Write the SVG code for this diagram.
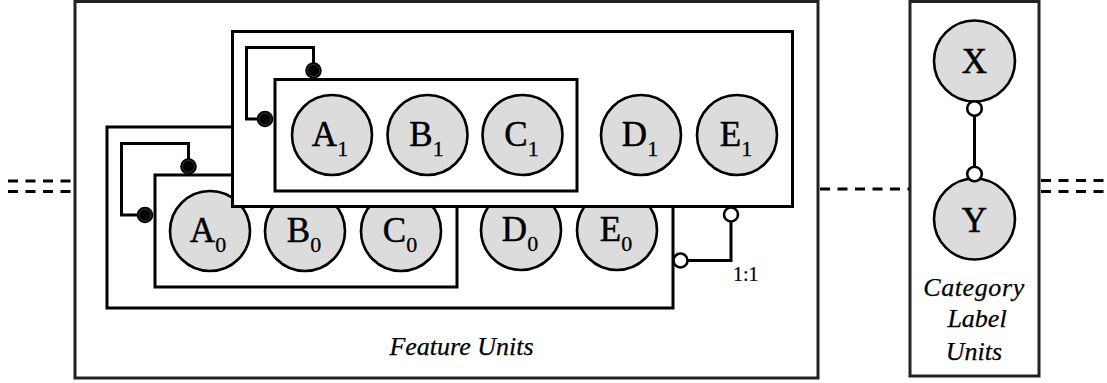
<svg xmlns="http://www.w3.org/2000/svg" width="1107" height="383" viewBox="0 0 1107 383">
  <style>
    .frame { fill: #fff; stroke: #222; stroke-width: 3; }
    .box { fill: #fff; stroke: #000; stroke-width: 3; }
    .unit { fill: #dcdcdc; stroke: #000; stroke-width: 2.6; }
    .lbl { font-family: "Liberation Serif", "Times New Roman", serif; font-size: 35px; fill: #000; stroke: #000; stroke-width: 0.5; text-anchor: middle; }
    .sub { font-size: 22px; stroke-width: 0.3; }
    .cap { font-family: "Liberation Serif", "Times New Roman", serif; font-style: italic; font-size: 26px; fill: #000; stroke: #000; stroke-width: 0.25; text-anchor: middle; }
    .note { font-family: "Liberation Serif", "Times New Roman", serif; font-size: 20px; fill: #000; stroke: #000; stroke-width: 0.2; }
    .wire { fill: none; stroke: #000; stroke-width: 3; }
    .dash { fill: none; stroke: #000; stroke-width: 3; stroke-dasharray: 10 7.5; }
    .open { fill: #fff; stroke: #000; stroke-width: 2.6; }
  </style>
  <defs>
    <g id="dot">
      <circle r="8.3" fill="#000"/>
      <circle r="6" fill="none" stroke="#3a3a3a" stroke-width="1"/>
    </g>
  </defs>

  <!-- feature units container -->
  <g id="feature-units">
    <rect class="frame" x="75" y="1.5" width="743" height="376.5"/>
    <text class="cap" x="461.5" y="355">Feature Units</text>
  </g>

  <!-- slice 0 (front) -->
  <g id="slice-0">
    <rect class="box" x="107" y="127" width="566" height="181"/>
    <rect class="box" x="155" y="175" width="302" height="112"/>
    <g id="A0"><circle class="unit" cx="210" cy="231" r="40"/><text class="lbl" x="208" y="241.5">A<tspan class="sub" dy="10">0</tspan></text></g>
    <g id="B0"><circle class="unit" cx="305" cy="231" r="40"/><text class="lbl" x="304" y="241.5">B<tspan class="sub" dy="10">0</tspan></text></g>
    <g id="C0"><circle class="unit" cx="401" cy="231" r="40"/><text class="lbl" x="400" y="241.5">C<tspan class="sub" dy="10">0</tspan></text></g>
    <g id="D0"><circle class="unit" cx="521" cy="230" r="40"/><text class="lbl" x="520" y="240.5">D<tspan class="sub" dy="10">0</tspan></text></g>
    <g id="E0"><circle class="unit" cx="617" cy="230" r="40"/><text class="lbl" x="616" y="240.5">E<tspan class="sub" dy="10">0</tspan></text></g>
  </g>

  <!-- slice 1 (back) -->
  <g id="slice-1">
    <rect class="box" x="232.5" y="31.5" width="560" height="175"/>
    <rect class="box" x="275" y="79.5" width="302" height="111.5"/>
    <g id="A1"><circle class="unit" cx="332" cy="135" r="40"/><text class="lbl" x="330" y="145.5">A<tspan class="sub" dy="10">1</tspan></text></g>
    <g id="B1"><circle class="unit" cx="427.5" cy="135" r="40"/><text class="lbl" x="426.5" y="145.5">B<tspan class="sub" dy="10">1</tspan></text></g>
    <g id="C1"><circle class="unit" cx="522.5" cy="135" r="40"/><text class="lbl" x="521.5" y="145.5">C<tspan class="sub" dy="10">1</tspan></text></g>
    <g id="D1"><circle class="unit" cx="641" cy="135" r="40"/><text class="lbl" x="640" y="145.5">D<tspan class="sub" dy="10">1</tspan></text></g>
    <g id="E1"><circle class="unit" cx="737" cy="135" r="40"/><text class="lbl" x="736" y="145.5">E<tspan class="sub" dy="10">1</tspan></text></g>
  </g>

  <!-- category label units -->
  <g id="category-units">
    <rect class="frame" x="910" y="1.5" width="129" height="374.5"/>
    <g id="X"><circle class="unit" cx="974.5" cy="61" r="40.5"/><text class="lbl" x="974.5" y="72.5">X</text></g>
    <g id="Y"><circle class="unit" cx="974.5" cy="219" r="40.5"/><text class="lbl" x="974.5" y="231.5">Y</text></g>
    <text class="cap" x="974" y="296" letter-spacing="0.6">Category</text>
    <text class="cap" x="977" y="327">Label</text>
    <text class="cap" x="974" y="360">Units</text>
  </g>

  <!-- connectors -->
  <g id="connectors">
    <!-- recurrent loop, slice 0 -->
    <polyline class="wire" points="188.5,166 188.5,143.5 121.5,143.5 121.5,215 145,215"/>
    <use href="#dot" x="188.5" y="166.5"/>
    <use href="#dot" x="145" y="215"/>
    <!-- recurrent loop, slice 1 -->
    <polyline class="wire" points="313.5,70 313.5,47.5 246.5,47.5 246.5,119 265,119"/>
    <use href="#dot" x="313.5" y="70.5"/>
    <use href="#dot" x="265" y="119"/>
    <!-- one-to-one coupling between slices -->
    <polyline class="wire" points="731,222 731,260.5 688,260.5"/>
    <circle class="open" cx="731" cy="214.5" r="7"/>
    <circle class="open" cx="680.5" cy="260.5" r="7"/>
    <text class="note" x="733" y="280.5">1:1</text>
    <!-- X to Y -->
    <line class="wire" x1="974.5" y1="115.5" x2="974.5" y2="167"/>
    <circle class="open" cx="974.5" cy="108.5" r="7.3"/>
    <circle class="open" cx="974.5" cy="174" r="7.3"/>
    <!-- links to neighbouring blocks -->
    <line class="dash" x1="8" y1="181" x2="74" y2="181"/>
    <line class="dash" x1="8" y1="191.5" x2="74" y2="191.5"/>
    <line class="dash" x1="820" y1="189" x2="909" y2="189"/>
    <line class="dash" x1="1041" y1="180.5" x2="1107" y2="180.5"/>
    <line class="dash" x1="1041" y1="191.5" x2="1107" y2="191.5"/>
  </g>
</svg>
